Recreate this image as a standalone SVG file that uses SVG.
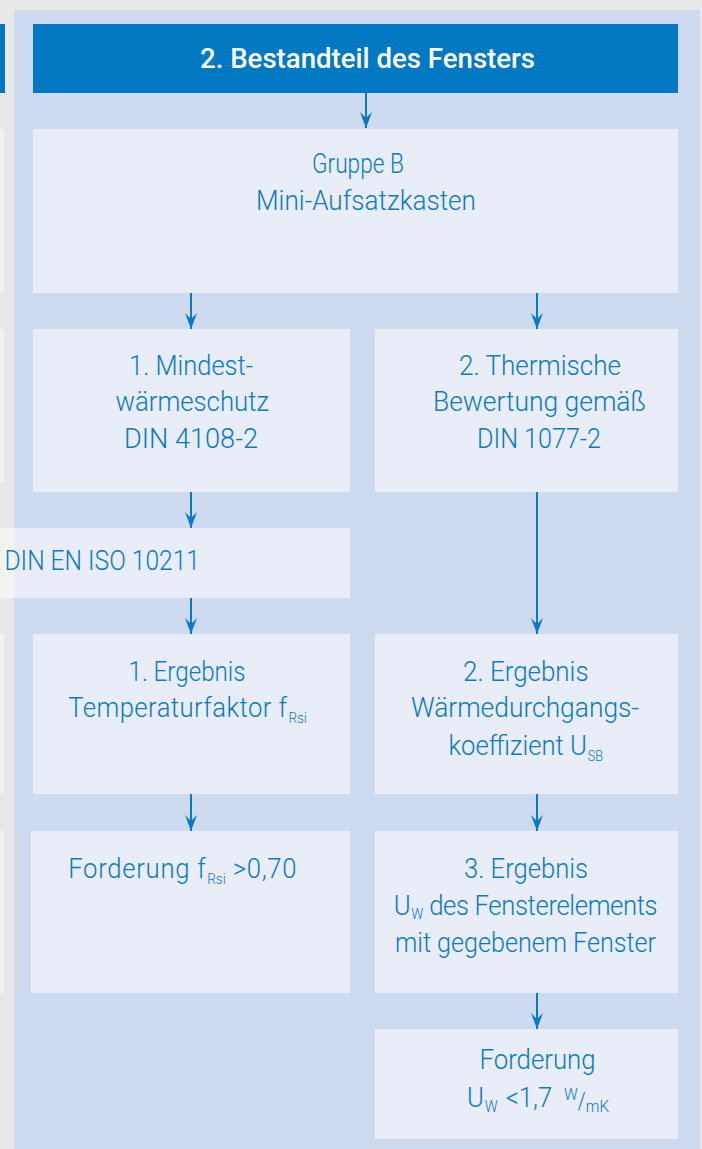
<svg xmlns="http://www.w3.org/2000/svg" width="702" height="1149" viewBox="0 0 702 1149">
<defs>
<style>
.bg{fill:#e7e8e7}
.panel{fill:#cddaef}
.box{fill:#e8edf7}
.strip{fill:#f2f4f2}
.head{fill:#0079c2}
.t{font-family:Roboto,"Liberation Sans",Arial,sans-serif;font-weight:300;font-size:28.5px;fill:#0a7ac2}
.c{text-anchor:middle}
.sub{font-size:15px;letter-spacing:0}
.title{font-family:Roboto,"Liberation Sans",Arial,sans-serif;font-size:28px;font-weight:500;fill:#ffffff}
.conn{stroke:#0a7ac2;stroke-width:2;fill:none}
</style>
<marker id="arr" viewBox="0 0 16 12" refX="16" refY="6" markerWidth="16" markerHeight="12" markerUnits="userSpaceOnUse" orient="auto">
<path d="M0,0 L16,6 L0,12 L6,6 Z" fill="#0a7ac2"/>
</marker>
</defs>
<rect class="bg" x="0" y="0" width="702" height="1149"/>
<g id="left-column-remnant">
<rect x="0" y="24" width="5" height="69" class="head"/>
<rect x="0" y="129" width="4" height="163" class="strip"/>
<rect x="0" y="329" width="4" height="153" class="strip"/>
<rect x="0" y="634" width="4" height="159" class="strip"/>
<rect x="0" y="831" width="4" height="162" class="strip"/>
</g>
<rect class="panel" x="14" y="10" width="686" height="1139"/>

<g id="title">
<rect class="head" x="33" y="24" width="645" height="69"/>
<text class="title" x="200" y="68" textLength="335" lengthAdjust="spacingAndGlyphs">2. Bestandteil des Fensters</text>
</g>

<g id="gruppe-b">
<rect class="box" x="33" y="129" width="645" height="164"/>
<text class="t" transform="scale(0.9 1)" x="346.67" y="173" textLength="102.2" lengthAdjust="spacingAndGlyphs">Gruppe B</text>
<text class="t" transform="scale(0.9 1)" x="284.44" y="210" textLength="244.44" lengthAdjust="spacingAndGlyphs">Mini-Aufsatzkasten</text>
</g>

<g id="mindestwaermeschutz">
<rect class="box" x="33" y="329" width="317" height="163"/>
<text class="t" transform="scale(0.9 1)" x="143.33" y="375" textLength="137.78" lengthAdjust="spacingAndGlyphs">1. Mindest-</text>
<text class="t" transform="scale(0.9 1)" x="128.33" y="411.5" textLength="170.56" lengthAdjust="spacingAndGlyphs">wärmeschutz</text>
<text class="t" transform="scale(0.9 1)" x="137.78" y="448" textLength="148.89" lengthAdjust="spacingAndGlyphs">DIN 4108-2</text>
</g>

<g id="thermische-bewertung">
<rect class="box" x="375" y="329" width="303" height="163"/>
<text class="t" transform="scale(0.9 1)" x="510" y="375" textLength="180" lengthAdjust="spacingAndGlyphs">2. Thermische</text>
<text class="t" transform="scale(0.9 1)" x="481.11" y="411.5" textLength="236.67" lengthAdjust="spacingAndGlyphs">Bewertung gemäß</text>
<text class="t" transform="scale(0.9 1)" x="530" y="448" textLength="137.78" lengthAdjust="spacingAndGlyphs">DIN 1077-2</text>
</g>

<g id="din-en-iso">
<rect class="strip" x="0" y="528" width="14" height="70"/>
<rect class="box" x="14" y="528" width="336" height="70"/>
<text class="t" transform="scale(0.9 1)" x="5" y="570" textLength="217.22" lengthAdjust="spacingAndGlyphs">DIN EN ISO 10211</text>
</g>

<g id="ergebnis-1">
<rect class="box" x="33" y="634" width="317" height="160"/>
<text class="t" transform="scale(0.9 1)" x="142.78" y="681" textLength="130" lengthAdjust="spacingAndGlyphs">1. Ergebnis</text>
<text class="t c" transform="scale(0.9 1)" x="208.4" y="717.3" style="letter-spacing:0.5px">Temperaturfaktor f<tspan class="sub" dx="1" dy="6">Rsi</tspan></text>
</g>

<g id="ergebnis-2">
<rect class="box" x="375" y="634" width="303" height="160"/>
<text class="t" transform="scale(0.9 1)" x="514.44" y="681" textLength="139.56" lengthAdjust="spacingAndGlyphs">2. Ergebnis</text>
<text class="t" transform="scale(0.9 1)" x="456.67" y="717.3" textLength="253.33" lengthAdjust="spacingAndGlyphs">Wärmedurchgangs-</text>
<text class="t c" transform="scale(0.9 1)" x="584.2" y="755">koeffizient U<tspan class="sub" style="font-size:14px" dx="1" dy="6.5">SB</tspan></text>
</g>

<g id="forderung-f">
<rect class="box" x="31" y="831" width="319" height="162"/>
<text class="t c" transform="scale(0.9 1)" x="203" y="878.3" style="letter-spacing:0.8px">Forderung f<tspan class="sub" dx="1" dy="6">Rsi</tspan><tspan dy="-6"> &gt;0,70</tspan></text>
</g>

<g id="ergebnis-3">
<rect class="box" x="375" y="831" width="303" height="162"/>
<text class="t" transform="scale(0.9 1)" x="515.56" y="878" textLength="137.78" lengthAdjust="spacingAndGlyphs">3. Ergebnis</text>
<text class="t c" transform="scale(0.9 1)" x="583.9" y="915" style="letter-spacing:-0.4px">U<tspan class="sub" dx="1" dy="4.5">W</tspan><tspan dy="-4.5"> des Fensterelements</tspan></text>
<text class="t" transform="scale(0.9 1)" x="438.89" y="951.7" textLength="290" lengthAdjust="spacingAndGlyphs">mit gegebenem Fenster</text>
</g>

<g id="forderung-u">
<rect class="box" x="375" y="1029" width="303" height="110"/>
<text class="t" transform="scale(0.9 1)" x="532.78" y="1069.5" textLength="128.89" lengthAdjust="spacingAndGlyphs">Forderung</text>
<text class="t c" transform="scale(0.9 1)" x="597.8" y="1107">U<tspan style="font-size:16px" dx="1" dy="5.5">W</tspan><tspan dx="2" dy="-5.5"> &lt;1,7 </tspan><tspan style="font-size:17px" dx="6" dy="-7">W</tspan><tspan style="font-size:23px" dy="9">/</tspan><tspan style="font-size:17px" dy="3">mK</tspan></text>
</g>

<g id="connectors" class="conn" marker-end="url(#arr)">
<line x1="366" y1="93" x2="366" y2="128"/>
<line x1="191" y1="293" x2="191" y2="329"/>
<line x1="537" y1="293" x2="537" y2="329"/>
<line x1="191" y1="492" x2="191" y2="528"/>
<line x1="537" y1="492" x2="537" y2="634"/>
<line x1="191" y1="598" x2="191" y2="634"/>
<line x1="191" y1="794" x2="191" y2="831"/>
<line x1="537" y1="794" x2="537" y2="831"/>
<line x1="537" y1="993" x2="537" y2="1029"/>
</g>
</svg>
